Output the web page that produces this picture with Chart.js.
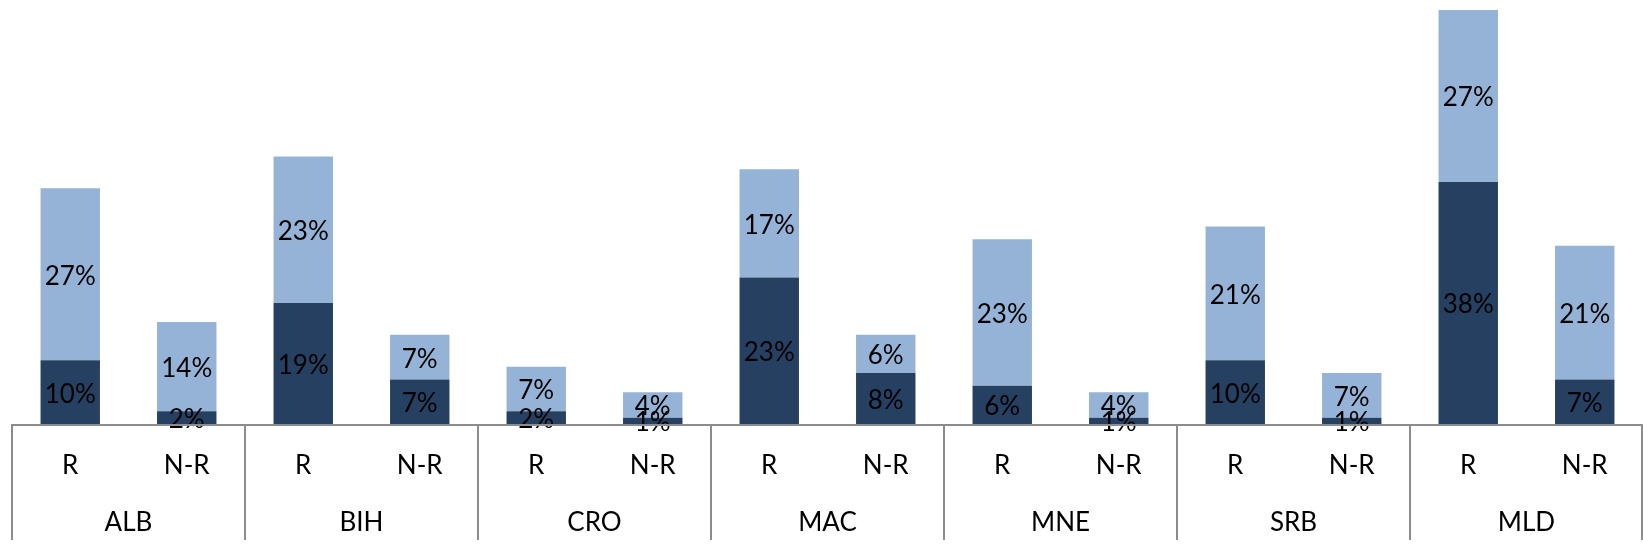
<!DOCTYPE html>
<html>
<head>
<meta charset="utf-8">
<script src="https://cdn.jsdelivr.net/npm/chart.js@4/dist/chart.umd.min.js"></script>
<style>
  html, body { margin: 0; padding: 0; background: #ffffff; }
  #wrap { width: 1643px; height: 550px; position: relative; }
</style>
</head>
<body>
<div id="wrap"><canvas id="c"></canvas></div>
<script>
// Country groups and the two bars within each group
const countries = ['ALB', 'BIH', 'CRO', 'MAC', 'MNE', 'SRB', 'MLD'];
const barTypes = ['R', 'N-R'];

// Lower (dark) and upper (light) segment values, in %, per bar
const darkShare  = [10, 2, 19, 7, 2, 1, 23, 8, 6, 1, 10, 1, 38, 7];
const lightShare = [27, 14, 23, 7, 7, 4, 17, 6, 23, 4, 21, 7, 27, 21];

const categories = [];
countries.forEach(() => barTypes.forEach(t => categories.push(t)));

const FONT = 'Lato, "Open Sans", sans-serif';
const FONT_SIZE = 26;
const AXIS_GRAY = '#8c8c8c';

// Percent labels centred in each segment
const segmentLabels = {
  id: 'segmentLabels',
  afterDatasetsDraw(chart) {
    const ctx = chart.ctx;
    ctx.save();
    ctx.font = FONT_SIZE + 'px ' + FONT;
    ctx.fillStyle = '#000000';
    ctx.textAlign = 'center';
    ctx.textBaseline = 'middle';
    chart.data.datasets.forEach((ds, di) => {
      const meta = chart.getDatasetMeta(di);
      meta.data.forEach((bar, i) => {
        const p = bar.getProps(['x', 'y', 'base'], true);
        ctx.fillText(ds.data[i] + '%', p.x, (p.y + p.base) / 2 + 2);
      });
    });
    ctx.restore();
  }
};

// Group separators and country names under the R / N-R row
const groupAxis = {
  id: 'groupAxis',
  afterDraw(chart) {
    const ctx = chart.ctx;
    const x = chart.scales.x;
    const area = chart.chartArea;
    const step = (x.right - x.left) / categories.length;
    ctx.save();
    ctx.strokeStyle = AXIS_GRAY;
    ctx.lineWidth = 2;
    // baseline
    ctx.beginPath();
    ctx.moveTo(x.left - 1, area.bottom + 1);
    ctx.lineTo(x.right, area.bottom + 1);
    ctx.stroke();
    for (let g = 0; g <= countries.length; g++) {
      let px = x.left + g * 2 * step;
      if (g === countries.length) px = x.right - 1;
      ctx.beginPath();
      ctx.moveTo(px, area.bottom);
      ctx.lineTo(px, 540);
      ctx.stroke();
    }
    ctx.font = FONT_SIZE + 'px ' + FONT;
    ctx.fillStyle = '#000000';
    ctx.textAlign = 'center';
    ctx.textBaseline = 'middle';
    countries.forEach((c, g) => {
      const cx = x.left + (g * 2 + 1) * step;
      ctx.fillText(c, cx, 523);
    });
    ctx.restore();
  }
};

new Chart(document.getElementById('c'), {
  type: 'bar',
  data: {
    labels: categories,
    datasets: [
      { label: 'Lower', data: darkShare, backgroundColor: '#264061', borderWidth: 0, barPercentage: 0.51, categoryPercentage: 1 },
      { label: 'Upper', data: lightShare, backgroundColor: '#95b3d7', borderWidth: 0, barPercentage: 0.51, categoryPercentage: 1 }
    ]
  },
  options: {
    responsive: true,
    maintainAspectRatio: false,
    animation: false,
    events: [],
    layout: { padding: { top: 10, left: 12, right: 0, bottom: 0 } },
    plugins: { legend: { display: false }, tooltip: { enabled: false } },
    scales: {
      x: {
        stacked: true,
        grid: { display: false, drawTicks: false },
        border: { display: false },
        ticks: { font: { family: FONT, size: FONT_SIZE }, color: '#000000', padding: 26, autoSkip: false, maxRotation: 0 },
        afterFit(scale) { scale.height = 126; }
      },
      y: {
        stacked: true,
        display: false,
        min: 0,
        max: 65
      }
    }
  },
  plugins: [segmentLabels, groupAxis]
});
</script>
</body>
</html>
